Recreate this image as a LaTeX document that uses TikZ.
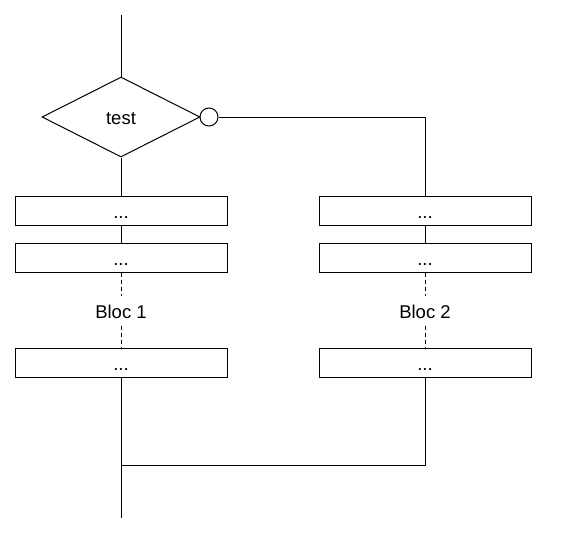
\documentclass[tikz,border=0pt]{standalone}
\usepackage{fontspec}
\setmainfont{Liberation Sans}
\usetikzlibrary{shapes.geometric}
\begin{document}
\begin{tikzpicture}[x=1pt,y=-1pt,line width=1pt,
  every node/.style={font=\fontsize{18.5}{22}\selectfont, text height=15pt, text depth=0pt},
  stepbox/.style={draw, rectangle, minimum width=212pt, minimum height=29pt, inner sep=0pt},
  testbox/.style={draw, diamond, minimum width=158pt, minimum height=80pt, inner sep=0pt},
  negcirc/.style={draw, circle, minimum size=18pt, inner sep=0pt, text height=0pt},
  bloclabel/.style={inner xsep=2pt, inner ysep=7pt},
  dashline/.style={dash pattern=on 4pt off 3pt}]
\useasboundingbox (0,0) rectangle (561,541);
\coordinate (start) at (121,15);
\coordinate (finish) at (121,518);
\node[testbox] (test) at (121,117) {test};
\node[negcirc] (neg) at (209,117) {};
\node[stepbox] (a1) at (121,210.5) {...};
\node[stepbox] (a2) at (121,257.5) {...};
\node[bloclabel] (b1) at (121,310.5) {Bloc 1};
\node[stepbox] (a3) at (121,362.5) {...};
\node[stepbox] (c1) at (425,210.5) {...};
\node[stepbox] (c2) at (425,257.5) {...};
\node[bloclabel] (b2) at (425,310.5) {Bloc 2};
\node[stepbox] (c3) at (425,362.5) {...};
\coordinate (join) at (121,465);
\draw (start) -- (test.north);
\draw (test.south) -- (a1.north);
\draw (a1.south) -- (a2.north);
\draw[dashline] (a2.south) -- (b1.north);
\draw[dashline] (b1.south) -- (a3.north);
\draw (neg.east) -| (c1.north);
\draw (c1.south) -- (c2.north);
\draw[dashline] (c2.south) -- (b2.north);
\draw[dashline] (b2.south) -- (c3.north);
\draw (a3.south) -- (finish);
\draw (c3.south) |- (join);
\end{tikzpicture}
\end{document}
